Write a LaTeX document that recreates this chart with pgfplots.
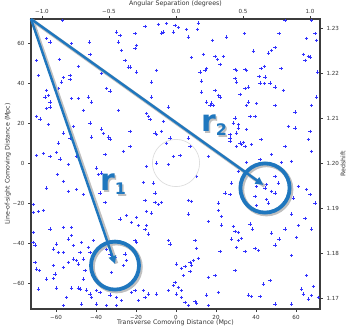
\documentclass[border=0pt]{standalone}
\usepackage{fontspec}
\setmainfont{DejaVu Sans}
\usepackage{pgfplots}
\pgfplotsset{compat=1.18}
\usetikzlibrary{arrows.meta}
\definecolor{annot}{RGB}{31,119,190}
\definecolor{frame}{RGB}{60,60,60}
\definecolor{markblue}{RGB}{50,50,255}
\begin{document}
\begin{tikzpicture}
\pgfplotsset{
  every axis/.append style={
    scale only axis, width=289bp, height=290bp,
    axis line style={frame, line width=1.1bp},
    tick style={frame, line width=0.6bp},
    tick align=outside, major tick length=3bp,
    tick label style={font=\fontsize{5.6}{6}\selectfont, text=black!80},
    label style={font=\fontsize{6.3}{7}\selectfont, text=black!80},
  }
}
% secondary axis (top: angular separation, right: redshift)
\begin{axis}[
  axis x line*=top, axis y line*=right,
  xmin=-1.0821, xmax=1.0746, ymin=1.167556, ymax=1.232,
  xtick={-1,-0.5,0,0.5,1}, xticklabels={−1.0,−0.5,0.0,0.5,1.0},
  ytick={1.17,1.18,1.19,1.20,1.21,1.22,1.23},
  yticklabels={1.17,1.18,1.19,1.20,1.21,1.22,1.23},
  xticklabel style={yshift=-1bp},
  xlabel={Angular Separation (degrees)},
  ylabel={Redshift},
  xlabel style={at={(axis description cs:0.5,1.052)}, anchor=center},
  ylabel style={at={(axis description cs:1.080,0.5)}, anchor=center},
]
\end{axis}
% main axis
\begin{axis}[
  xmin=-72.5, xmax=72, ymin=-73, ymax=72,
  xtick pos=left, ytick pos=left,
  xtick={-60,-40,-20,0,20,40,60}, xticklabels={−60,−40,−20,0,20,40,60},
  ytick={-60,-40,-20,0,20,40,60}, yticklabels={−60,−40,−20,0,20,40,60},
  xlabel={Transverse Comoving Distance (Mpc)},
  ylabel={Line-of-sight Comoving Distance (Mpc)},
  xlabel style={at={(axis description cs:0.5,-0.048)}, anchor=center},
  ylabel style={at={(axis description cs:-0.080,0.5)}, anchor=center},
  clip mode=individual,
]
\addplot[only marks, mark=+, mark size=1.8bp, color=markblue,
  mark options={line width=0.9bp, draw=markblue}] coordinates {
(-69.7,66.3)(-63.8,65.5)(-63,60.5)(-64.7,62.2)(-56.7,71.3)(-52.2,59.7)(-43.3,60.5)(-69.7,51.3)(-58.3,51.8)(-68.8,43.8)
(-56.3,42.7)(-57.2,40.5)(-53,43.8)(-53,41.7)(-58.8,37.2)(-48.8,48.3)(-43,54.3)(-37.2,44.7)(-34.7,37.2)(-33,36)
(-64.7,36.3)(-63.8,33.8)(-65.5,33)(-63,30.5)(-52.2,32.2)(-48.8,32.2)(-43.8,33)(-42.2,30.5)(-63,28)(-64.7,27.2)
(-56.3,25.5)(-46.3,26.3)(-28.8,26.3)(-29.7,65.5)(-28,63.8)(-28.8,60.5)(-27.2,56.3)(-20.5,64.7)(-19.7,58.8)(-20.5,57.2)
(-15.5,68.3)(-8.8,69.3)(-4.7,69.7)(-7.2,65)(-6.3,65.5)(-25.5,51.3)(-23.8,48)(-19.7,45.5)(-23,48)(-9.7,46.3)
(-12.2,40.5)(-12.2,33)(-3.8,28)(-0.5,68.8)(-1.3,65.5)(-14.7,24.7)
(1.2,67.7)(5.3,66.7)(11.2,70)(10.8,66.7)(6.2,63)(18.2,61.3)(25.3,63)(34.2,64.7)(51.5,64.7)(69.5,64.7)
(65.3,62.2)(70.3,61.3)(7.8,52.7)(13.7,54.3)(19.5,53.3)(20.8,51.7)(23.7,53.3)(22,49.3)(38.7,56)(46.2,55)
(47.8,56.3)(49.5,57.7)(63.7,54.3)(66.2,53.3)(64.5,51.3)(67,53)(15.3,47.2)(14.5,46.3)(12,45.5)(29.5,46.7)
(30.3,46.3)(34.5,46.7)(35.3,46.3)(42.5,47.2)(44.2,48.3)(52.5,47.2)(70.8,45.5)(29.5,42.2)(30.3,40.5)(41.5,43.3)
(44.5,43)(42,40)(44.2,39.7)(47,40)(49.5,38)(12.8,41)(34.5,37.2)(36.2,38)(53.7,36.3)(19.5,36.3)
(21.2,33.8)(22,33)(12.8,35.5)(32,34.3)(15.3,30.5)(17,28.8)(18.7,28.8)(17.8,30)(36.2,30.5)(35.3,28.8)
(40.3,29.7)(49.5,28.8)(59.5,25.5)(67.8,28.8)(70.3,33)(54.5,71.3)(67.8,71.3)
(-69.7,23.3)(-68,22)(-63.8,19.2)(-56.3,15)(-58.8,10)(-51.3,18.3)(-53,12.5)(-43,20)(-42.2,13)(-37.2,17)
(-36.3,14.7)(-33.8,13)(-33,12)(-69.7,3.7)(-66.3,4.7)(-63,3.3)(-59.7,5.3)(-58,2)(-53.8,-0.8)(-49.7,3.3)
(-59.3,-5.8)(-56.3,-9.2)(-64.7,-12.5)(-53.8,-14.2)(-49.7,-13.3)(-46.3,-15.8)(-39.7,-2.5)(-38.8,-5.8)(-37.2,-5)(-38,-15)
(-35.5,4.2)(-26.3,5.8)(-23,8.3)(-23,15.8)(-13.8,23.3)(-13,21.7)(-6.3,20.8)(-10.5,15)(-9.7,14.2)(-7.2,15.8)
(-4.7,10)(-3,12.5)(-14.7,-1.7)(-9.7,0)(-3.8,-0.8)(-1.3,3.3)(-16.3,-9.7)(-11.3,-10)(-10.5,-15)(-15.5,-18.7)
(-10.5,-19.7)(-8.8,-20.8)(-7.2,-19.7)(-35.5,-19.7)(-71.3,-20.8)
(2,3.7)(6.2,12.5)(7,8.3)(16.2,3.3)(10.3,-6.7)(6.2,-18.7)(7.8,-19.2)(21.2,-20)(29.5,22.5)(28.7,20)
(31.2,19.2)(31.2,17.5)(35.3,16.7)(30.3,15)(27,14.2)(27,12.5)(27,10.8)(32,10)(32.8,9.2)(33.7,10.3)
(34.5,8.3)(30.3,8.3)(37.8,9.2)(39.5,23.3)(37,23.3)(42.5,11.7)(47.8,4.2)(35.3,0.3)(42,1.7)(52.8,0.3)
(57.8,0.8)(56.2,18.3)(59.5,17.5)(54.5,8.3)(67,15.8)(67.8,5.8)(66.2,11.7)(31.2,-4.2)(27.8,-10)(24.5,-15)
(27,-15.8)(40.3,-11.7)(42,-10)(44.5,-12.5)(45.3,-10.8)(49.5,-6.7)(51.2,-10)(47.8,-14.2)(49.5,-15)(45.3,-18.3)
(46.2,-20)(39.5,-16.7)(40.3,-21.3)(61.2,-11.7)(65.3,-13.3)(67,-15.8)(69.5,-20)(54.5,-19.2)(58.7,-17.5)
(-71.3,-24.7)(-68.8,-24.3)(-66.3,-23.8)(-71.3,-34.7)(-71.5,-39.7)(-70.5,-41)(-70.5,-49.7)(-69.7,-53)(-68.3,-53.8)(-63,-33)
(-56.3,-32.2)(-52.2,-32.2)(-52.2,-36.3)(-53.8,-38)(-59.7,-40.5)(-58.8,-44.7)(-56.3,-44.7)(-61.3,-43)(-51.3,-41.3)(-47.2,-39.7)
(-41.3,-38.8)(-48,-44.7)(-51.3,-48)(-53.8,-49.7)(-49.7,-48.8)(-46.3,-48)(-48.8,-50.5)(-43.8,-42.2)(-43,-44.7)(-42.2,-48.8)
(-61.3,-51.3)(-56.3,-52.2)(-60.5,-55.5)(-45.5,-53.8)(-46.3,-58)(-59.7,-62.5)(-52.2,-62.5)(-48.8,-62.5)(-48,-63)(-54.7,-67.2)
(-44.7,-63.5)(-43,-65.5)(-42.2,-67.2)(-39.7,-63.8)(-34.7,-43)(-33,-45.5)(-30.5,-47.2)(-32.2,-54.7)(-25.5,-45.5)(-24.7,-48.8)
(-26.3,-51.3)(-28,-28)(-24.7,-26.3)(-19.7,-27.2)(-22.2,-29.7)(-18.8,-31.3)(-14.7,-31.3)(-15.5,-33.3)(-13.8,-35.5)(-14.7,-24.3)
(-12.2,-25)(-20.5,-38.8)(-19.7,-39.7)(-3.8,-38.8)(-3,-40.5)(-38,-64.7)(-33,-66)(-29.7,-67.2)(-27.2,-68.8)(-22.2,-64.7)
(-20.5,-63.8)(-16.3,-63.8)(-13.8,-65.5)(-15.5,-67.2)(-18.8,-68.8)(-9.7,-65.5)(-3.8,-63.8)(-1.3,-61.3)(-56.3,-71.3)(-47.2,-70.5)
(-39.7,-70.5)(-34.7,-71.3)(-29.7,-71.3)(-68.8,-63)(-64.7,-58)(-61.3,-57.7)
(6.2,-25.5)(21.2,-23.8)(22.8,-26.7)(16.2,-29.3)(22.8,-31)(28.7,-31.7)(29.5,-34.3)(31.2,-34.7)(32.8,-37.7)(31.2,-38.8)
(30.3,-42.2)(27.8,-38)(34.5,-44.3)(37,-30.5)(38.2,-33)(39.5,-42.7)(41.2,-43.8)(47.8,-35)(49.5,-41)(51.5,-38)
(54.5,-33)(57.8,-25.5)(60.3,-37.2)(61.2,-31.3)(64.5,-27.7)(67.8,-33)(57.8,-46.3)(9.5,-38.8)(10.3,-42.7)(11.2,-47.7)
(22,-44.3)(0.3,-50.5)(2.8,-52.7)(7,-49.7)(7.8,-51)(4.5,-51.7)(8.7,-48.8)(3.7,-56.3)(7,-54.3)(-0.5,-59.7)
(1.2,-62.2)(2.8,-63.8)(0.3,-65.5)(2.8,-67.2)(4.5,-69.7)(16.2,-57.2)(19.5,-56.3)(29.5,-53.8)(21.2,-64.7)(15.3,-66)
(9.5,-69.3)(10.3,-70.2)(36.2,-66)(37.8,-66.7)(42,-66.7)(43.7,-60.5)(47,-58.8)(49.5,-70.5)(57.8,-70.5)(62.8,-63)
(63.7,-65.5)(65.3,-56.3)(67.8,-66.3)(66.2,-68)(68.7,-61.7)(71.2,-67.2)(6.2,-71.3)(16.2,-71.3)
};
% faint reference circle
\draw[black!15, line width=0.6bp] (axis cs:0,0) circle[radius=11.8];
% shadows
\begin{scope}[black!25, line width=3.5bp, shift={(1.5bp,-1.5bp)}]
\draw (axis cs:-72.5,72) -- (axis cs:-30.5,-49.5);
\draw (axis cs:-72.5,72) -- (axis cs:43.5,-10.8);
\draw[line width=4.5bp] (axis cs:-30.5,-51.3) circle[radius=12];
\draw[line width=4.5bp] (axis cs:44.5,-12.5) circle[radius=12.3];
\end{scope}
% annotations
\draw[annot, line width=2.4bp, -{Triangle[length=8bp,width=7.5bp]}] (axis cs:-72.5,72) -- (axis cs:-30.5,-50.5);
\draw[annot, line width=2.4bp, -{Triangle[length=8bp,width=7.5bp]}] (axis cs:-72.5,72) -- (axis cs:43.7,-11);
\draw[annot, line width=3.8bp] (axis cs:-30.5,-51.3) circle[radius=12];
\draw[annot, line width=3.8bp] (axis cs:44.5,-12.5) circle[radius=12.3];
\node[text=black!25, font=\fontsize{30}{30}\selectfont\bfseries, anchor=base] at ([shift={(1.5bp,-1.5bp)}]axis cs:-31.5,-14)
  {r\raisebox{-4bp}{\fontsize{16}{16}\selectfont 1}};
\node[text=annot, font=\fontsize{30}{30}\selectfont\bfseries, anchor=base] at (axis cs:-31.5,-14)
  {r\raisebox{-4bp}{\fontsize{16}{16}\selectfont 1}};
\node[text=black!25, font=\fontsize{30}{30}\selectfont\bfseries, anchor=base] at ([shift={(1.5bp,-1.5bp)}]axis cs:19,15.5)
  {r\raisebox{-4bp}{\fontsize{16}{16}\selectfont 2}};
\node[text=annot, font=\fontsize{30}{30}\selectfont\bfseries, anchor=base] at (axis cs:19,15.5)
  {r\raisebox{-4bp}{\fontsize{16}{16}\selectfont 2}};
\end{axis}
\pgfresetboundingbox
\useasboundingbox ([xshift=-31bp,yshift=-23bp]current axis.south west) rectangle ([xshift=27bp,yshift=19bp]current axis.north east);
\end{tikzpicture}
\end{document}
